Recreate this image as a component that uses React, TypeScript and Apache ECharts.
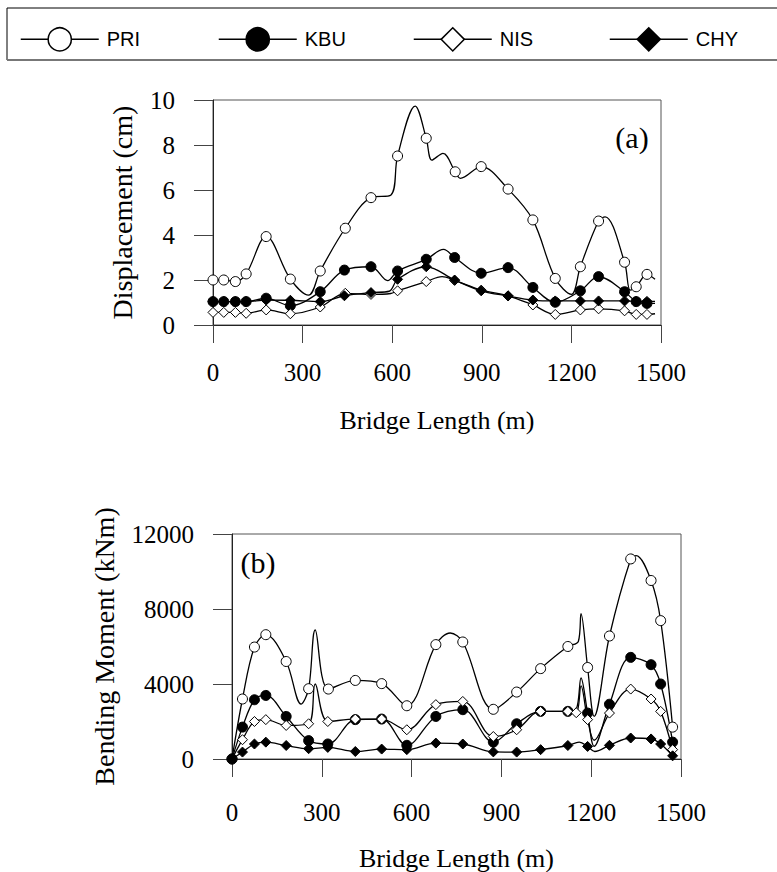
import React, { useEffect, useRef } from "react";
import * as echarts from "echarts";

type P = [number, number];

// ---------- (a) Displacement (cm) ----------
const dispPRI: P[] = [[0,2.0],[36,2.0],[75,1.93],[111,2.27],[178,3.93],[259,2.04],[359,2.4],[443,4.3],[529,5.66],[618,7.51],[714,8.3],[811,6.81],[898,7.04],[988,6.04],[1071,4.67],[1146,2.07],[1230,2.59],[1291,4.62],[1378,2.79],[1417,1.7],[1453,2.25]];
const dispPRIcurve: P[] = [[320,1.33],[596,5.78],[677,9.73],[733,7.33],[770,7.63],[828,6.52],[1200,1.36],[1313,4.81],[1397,1.55],[1480,2.03]];
const dispKBU: P[] = [[0,1.04],[36,1.04],[75,1.04],[111,1.04],[178,1.19],[259,0.86],[359,1.48],[440,2.44],[529,2.59],[618,2.4],[714,2.92],[809,3.0],[898,2.3],[988,2.55],[1071,1.67],[1146,1.01],[1230,1.52],[1291,2.15],[1378,1.48],[1417,1.04],[1453,0.96]];
const dispKBUcurve: P[] = [[585,1.97],[772,3.36],[1480,0.96]];
const dispNIS: P[] = [[0,0.56],[36,0.56],[75,0.56],[111,0.52],[178,0.67],[259,0.5],[359,0.8],[443,1.41],[529,1.36],[618,1.52],[714,1.93],[809,1.98],[898,1.55],[988,1.3],[1071,0.89],[1146,0.47],[1230,0.67],[1291,0.72],[1378,0.63],[1417,0.47],[1453,0.47]];
const dispNIScurve: P[] = [[595,1.4],[767,2.15],[1480,0.5]];
const dispCHY: P[] = [[0,1.04],[36,1.04],[75,1.04],[111,1.04],[178,1.11],[259,1.1],[359,1.04],[440,1.3],[529,1.44],[618,2.03],[714,2.59],[809,2.0],[898,1.52],[988,1.29],[1071,1.11],[1146,1.07],[1230,1.07],[1291,1.07],[1378,1.07],[1417,1.05],[1453,1.05]];
const dispCHYcurve: P[] = [[590,1.5],[1480,1.05]];

// ---------- (b) Bending Moment (kNm) ----------
const momPRI: P[] = [[0,0],[35,3200],[75,5970],[113,6630],[181,5200],[256,3750],[322,3730],[412,4190],[500,4020],[584,2840],[681,6100],[771,6240],[873,2650],[951,3570],[1031,4820],[1122,6000],[1188,4880],[1261,6560],[1332,10670],[1400,9520],[1432,7380],[1472,1700]];
const momPRIcurve: P[] = [[231,2930],[278,6880],[729,6720],[1157,6270],[1166,7750],[1210,2272],[1350,10850]];
const momKBU: P[] = [[0,0],[35,1700],[75,3160],[113,3390],[181,2270],[256,980],[320,800],[412,2100],[500,2130],[584,730],[681,2270],[771,2630],[873,900],[951,1880],[1031,2540],[1122,2540],[1188,2450],[1261,2920],[1332,5420],[1400,5030],[1432,4000],[1472,900]];
const momKBUcurve: P[] = [[1150,2650],[1166,4320],[1210,680]];
const momNIS: P[] = [[0,0],[35,1030],[75,2000],[113,2100],[181,1790],[256,1880],[320,2000],[412,2130],[500,2130],[584,1560],[681,2900],[771,3070],[873,1200],[951,1560],[1031,2540],[1122,2540],[1150,2470],[1188,2100],[1261,2450],[1332,3730],[1400,3200],[1432,2540],[1472,500]];
const momNIScurve: P[] = [[278,4000],[1166,3900],[1210,1000]];
const momCHY: P[] = [[0,0],[35,370],[75,800],[113,900],[181,720],[256,550],[320,620],[412,400],[500,530],[584,500],[681,850],[771,800],[873,380],[951,370],[1031,500],[1122,720],[1188,670],[1261,730],[1332,1120],[1400,1070],[1432,800],[1472,170]];
const momCHYcurve: P[] = [[1160,900],[1212,400]];

const seriesNames = ["PRI", "KBU", "NIS", "CHY"];
const xTicks = [0, 300, 600, 900, 1200, 1500];
const dispTicks = [0, 2, 4, 6, 8, 10];
const momTicks = [0, 4000, 8000, 12000];

const serif = "Liberation Serif, Times New Roman, serif";

function build(marked: P[], curve: P[]) {
  const pts = [
    ...marked.map((p) => ({ value: p })),
    ...curve.map((p) => ({ value: p, symbol: "none" })),
  ];
  pts.sort((a, b) => a.value[0] - b.value[0]);
  return pts;
}

const styles: Record<string, { symbol: string; fill: string; size: number }> = {
  PRI: { symbol: "circle", fill: "#fff", size: 10 },
  KBU: { symbol: "circle", fill: "#000", size: 10 },
  NIS: { symbol: "diamond", fill: "#fff", size: 10 },
  CHY: { symbol: "diamond", fill: "#000", size: 10 },
};

function mkSeries(name: string, idx: number, marked: P[], curve: P[]) {
  const s = styles[name];
  return {
    type: "line",
    name,
    xAxisIndex: idx,
    yAxisIndex: idx,
    data: build(marked, curve),
    smooth: 0.35,
    symbol: s.symbol,
    symbolSize: s.size,
    showSymbol: true,
    itemStyle: { color: s.fill, borderColor: "#000", borderWidth: 1 },
    lineStyle: { color: "#000", width: 1.3 },
    emphasis: { disabled: true },
  };
}

function xAxis(gridIndex: number, labelMargin: number, nameGap: number) {
  return {
    type: "value",
    gridIndex,
    min: 0,
    max: 1500,
    interval: 300,
    name: "Bridge Length (m)",
    nameLocation: "middle",
    nameGap,
    nameTextStyle: { fontFamily: serif, fontSize: 26, color: "#000" },
    axisLine: { show: true, lineStyle: { color: "#222", width: 1 } },
    axisTick: { show: true, inside: false, length: 18, lineStyle: { color: "#444", width: 1 } },
    axisLabel: {
      margin: labelMargin,
      fontFamily: serif,
      fontSize: 25,
      color: "#000",
      formatter: (v: number) => (xTicks.indexOf(v) >= 0 ? String(v) : ""),
    },
    splitLine: { show: false },
  };
}

function yAxis(gridIndex: number, max: number, interval: number, name: string, nameGap: number, ticks: number[]) {
  return {
    type: "value",
    gridIndex,
    min: 0,
    max,
    interval,
    name,
    nameLocation: "middle",
    nameGap,
    nameTextStyle: { fontFamily: serif, fontSize: 28, color: "#000" },
    axisLine: { show: true, lineStyle: { color: "#222", width: 1 } },
    axisTick: { show: true, inside: false, length: 19, lineStyle: { color: "#444", width: 1 } },
    axisLabel: {
      margin: 38,
      fontFamily: serif,
      fontSize: 25,
      color: "#000",
      formatter: (v: number) => (ticks.indexOf(v) >= 0 ? String(v) : ""),
    },
    splitLine: { show: false },
  };
}

const legendLefts = [15, 213, 408, 604];

export default function App() {
  const ref = useRef<HTMLDivElement>(null);
  useEffect(() => {
    if (!ref.current) return;
    const chart = echarts.init(ref.current, undefined, { renderer: "svg" });
    const option = {
      animation: false,
      backgroundColor: "#fff",
      grid: [
        { left: 213, top: 100, width: 448, height: 225, show: true, borderColor: "#555", borderWidth: 1 },
        { left: 232, top: 534, width: 449, height: 225, show: true, borderColor: "#555", borderWidth: 1 },
      ],
      xAxis: [xAxis(0, 35, 82), xAxis(1, 41, 86)],
      yAxis: [
        yAxis(0, 10, 2, "Displacement (cm)", 77, dispTicks),
        yAxis(1, 12000, 4000, "Bending Moment (kNm)", 114, momTicks),
      ],
      legend: seriesNames.map((n, i) => ({
        data: [n],
        left: legendLefts[i],
        top: 22,
        orient: "horizontal",
        itemWidth: 78,
        itemHeight: 29,
        selectedMode: false,
        itemStyle: { borderWidth: 1.5 },
        lineStyle: { width: 1.5 },
        textStyle: {
          fontFamily: "Liberation Sans, Arial, sans-serif",
          fontSize: 20,
          color: "#000",
          padding: [0, 0, 0, 3],
        },
      })),
      graphic: [
        {
          type: "rect",
          shape: { x: 7, y: 8, width: 780, height: 52 },
          style: { fill: "none", stroke: "#000", lineWidth: 1 },
          silent: true,
        },
        {
          type: "line",
          shape: { x1: 7, y1: 60, x2: 777, y2: 60 },
          style: { stroke: "#777", lineWidth: 2 },
          silent: true,
        },
        {
          type: "text",
          x: 632,
          y: 137,
          style: { text: "(a)", fontFamily: serif, fontSize: 30, fill: "#000", textAlign: "center", textVerticalAlign: "middle" },
          silent: true,
        },
        {
          type: "text",
          x: 258,
          y: 562,
          style: { text: "(b)", fontFamily: serif, fontSize: 30, fill: "#000", textAlign: "center", textVerticalAlign: "middle" },
          silent: true,
        },
      ],
      series: [
        mkSeries("PRI", 0, dispPRI, dispPRIcurve),
        mkSeries("KBU", 0, dispKBU, dispKBUcurve),
        mkSeries("NIS", 0, dispNIS, dispNIScurve),
        mkSeries("CHY", 0, dispCHY, dispCHYcurve),
        mkSeries("PRI", 1, momPRI, momPRIcurve),
        mkSeries("KBU", 1, momKBU, momKBUcurve),
        mkSeries("NIS", 1, momNIS, momNIScurve),
        mkSeries("CHY", 1, momCHY, momCHYcurve),
      ],
    };
    chart.setOption(option as any);
    return () => chart.dispose();
  }, []);
  return (
    <div
      ref={ref}
      style={{ position: "fixed", left: 0, top: 0, width: 777, height: 872, background: "#fff" }}
    />
  );
}
